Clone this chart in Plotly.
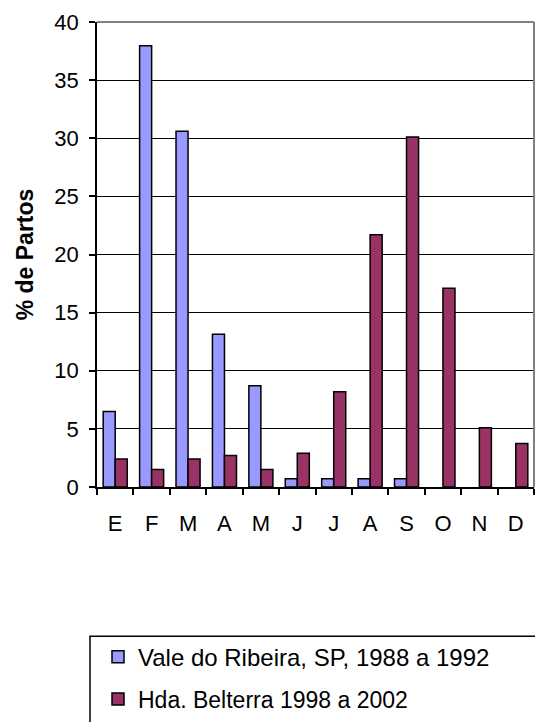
import plotly.graph_objects as go

months = ["E", "F", "M", "A", "M ", "J", "J ", "A ", "S", "O", "N", "D"]
vale = [6.5, 37.95, 30.6, 13.15, 8.7, 0.7, 0.7, 0.7, 0.7, 0, 0, 0]
belterra = [2.4, 1.5, 2.4, 2.7, 1.5, 2.9, 8.2, 21.7, 30.1, 17.1, 5.1, 3.75]
tick_text = ["E", "F", "M", "A", "M", "J", "J", "A", "S", "O", "N", "D"]
yticks = [0, 5, 10, 15, 20, 25, 30, 35, 40]

FONT = "Liberation Sans, Arial, sans-serif"

def outline(vals):
    return [1.5 if v > 0 else 0 for v in vals]

fig = go.Figure()
fig.add_trace(go.Bar(x=months, y=vale, name="Vale do Ribeira, SP, 1988 a 1992",
                     marker=dict(color="#9999FF", line=dict(color="black", width=outline(vale))),
                     legend="legend"))
fig.add_trace(go.Bar(x=months, y=belterra, name="Hda. Belterra 1998 a 2002",
                     marker=dict(color="#993366", line=dict(color="black", width=outline(belterra))),
                     legend="legend2"))

L, R, T, B = 97, 1, 22, 233
W, H = 535, 722
pw = W - L - R
ph = H - T - B

def px_x(x):
    return (x - L) / pw

def px_y(y):
    return (H - B - y) / ph

def legend_style(size):
    return dict(xanchor="left", yanchor="middle", bgcolor="rgba(0,0,0,0)", borderwidth=0,
                font=dict(family=FONT, size=size, color="black"))

fig.update_layout(
    width=W, height=H,
    margin=dict(l=L, r=R, t=T, b=B),
    paper_bgcolor="white", plot_bgcolor="white",
    font=dict(family=FONT, size=22, color="black"),
    barmode="group", bargap=0.34, bargroupgap=0,
    showlegend=True,
    legend=dict(x=px_x(98), y=px_y(660), **legend_style(24)),
    legend2=dict(x=px_x(98), y=px_y(702), **legend_style(23)),
    xaxis=dict(type="category", tickvals=months, ticktext=tick_text,
               showline=True, linecolor="black", linewidth=1.5,
               ticks="outside", tickson="boundaries", ticklen=6, tickcolor="black",
               tickwidth=1.5, ticklabelstandoff=16, showgrid=False,
               tickfont=dict(family=FONT, size=22)),
    yaxis=dict(range=[0, 40], tickvals=yticks, showline=True, linecolor="black", linewidth=1.5,
               ticks="outside", ticklen=6, tickcolor="black", tickwidth=1.5,
               ticklabelstandoff=6,
               showgrid=True, gridcolor="black", gridwidth=1.2, zeroline=False,
               tickfont=dict(family=FONT, size=22),
               title=dict(text="<b>% de Partos</b>", font=dict(family=FONT, size=23), standoff=14)),
    shapes=[
        dict(type="line", xref="paper", yref="paper", x0=0, x1=1, y0=1, y1=1,
             line=dict(color="#808080", width=2), layer="above"),
        dict(type="line", xref="paper", yref="paper", x0=1, x1=1, y0=0, y1=1,
             line=dict(color="#808080", width=2), layer="above"),
        dict(type="rect", xref="paper", yref="paper", x0=px_x(90), x1=px_x(545),
             y0=px_y(760), y1=px_y(639), line=dict(color="black", width=1.5),
             fillcolor="rgba(0,0,0,0)", layer="above"),
    ],
)

fig.write_html("out.html", config={"displayModeBar": False},
               post_script="document.body.style.margin='0';document.body.style.overflow='hidden';")
